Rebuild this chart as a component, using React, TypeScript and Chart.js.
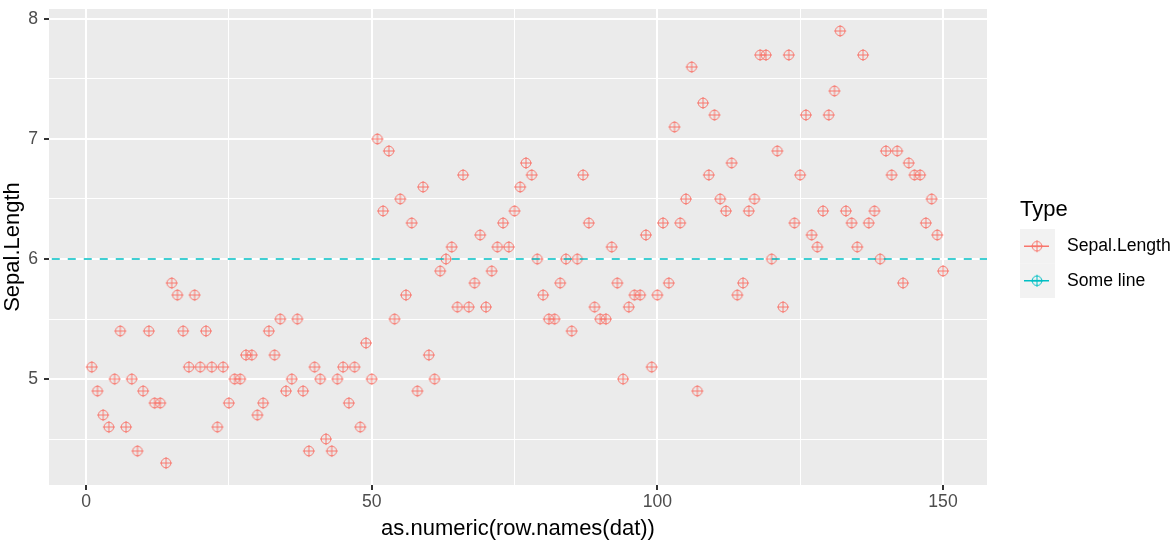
import React, { useEffect, useRef } from "react";
import { Chart, registerables } from "chart.js";

Chart.register(...registerables);

const sepalLength: number[] = [
  5.1, 4.9, 4.7, 4.6, 5.0, 5.4, 4.6, 5.0, 4.4, 4.9, 5.4, 4.8, 4.8, 4.3, 5.8, 5.7, 5.4, 5.1, 5.7, 5.1,
  5.4, 5.1, 4.6, 5.1, 4.8, 5.0, 5.0, 5.2, 5.2, 4.7, 4.8, 5.4, 5.2, 5.5, 4.9, 5.0, 5.5, 4.9, 4.4, 5.1,
  5.0, 4.5, 4.4, 5.0, 5.1, 4.8, 5.1, 4.6, 5.3, 5.0,
  7.0, 6.4, 6.9, 5.5, 6.5, 5.7, 6.3, 4.9, 6.6, 5.2, 5.0, 5.9, 6.0, 6.1, 5.6, 6.7, 5.6, 5.8, 6.2, 5.6,
  5.9, 6.1, 6.3, 6.1, 6.4, 6.6, 6.8, 6.7, 6.0, 5.7, 5.5, 5.5, 5.8, 6.0, 5.4, 6.0, 6.7, 6.3, 5.6, 5.5,
  5.5, 6.1, 5.8, 5.0, 5.6, 5.7, 5.7, 6.2, 5.1, 5.7,
  6.3, 5.8, 7.1, 6.3, 6.5, 7.6, 4.9, 7.3, 6.7, 7.2, 6.5, 6.4, 6.8, 5.7, 5.8, 6.4, 6.5, 7.7, 7.7, 6.0,
  6.9, 5.6, 7.7, 6.3, 6.7, 7.2, 6.2, 6.1, 6.4, 7.2, 7.4, 7.9, 6.4, 6.3, 6.1, 7.7, 6.3, 6.4, 6.0, 6.9,
  6.7, 6.9, 5.8, 6.8, 6.7, 6.7, 6.3, 6.5, 6.2, 5.9,
];
const rowNames: number[] = sepalLength.map((_, i) => i + 1);
const someLineValue = 6;
const seriesNames: string[] = ["Sepal.Length", "Some line"];
const legendTitle = "Type";
const xTitle = "as.numeric(row.names(dat))";
const yTitle = "Sepal.Length";
const xTicks: number[] = [0, 25, 50, 75, 100, 125, 150];
const xMajor: number[] = [0, 50, 100, 150];
const yTicks: number[] = [4.5, 5, 5.5, 6, 6.5, 7, 7.5, 8];
const yMajor: number[] = [5, 6, 7, 8];

const RED = "#F8766D";
const TEAL = "#00BFC4";
const FONT = "'Liberation Sans', Arial, sans-serif";
const TICK_SIZE = 17.6;
const TITLE_SIZE = 22;

function makeGlyph(color: string): HTMLCanvasElement {
  const c = document.createElement("canvas");
  c.width = 14;
  c.height = 14;
  const g = c.getContext("2d")!;
  g.strokeStyle = color;
  g.lineWidth = 1;
  g.beginPath();
  g.arc(7, 7, 4.8, 0, Math.PI * 2);
  g.stroke();
  g.beginPath();
  g.moveTo(7, 1);
  g.lineTo(7, 13);
  g.moveTo(1, 7);
  g.lineTo(13, 7);
  g.stroke();
  return c;
}

export default function App() {
  const ref = useRef<HTMLCanvasElement | null>(null);

  useEffect(() => {
    if (!ref.current) return;
    const redGlyph = makeGlyph(RED);
    const tealGlyph = makeGlyph(TEAL);

    const decor = {
      id: "decor",
      beforeDraw(chart: any) {
        const { ctx, chartArea: a } = chart;
        ctx.save();
        ctx.fillStyle = "#EBEBEB";
        ctx.fillRect(a.left, a.top, a.right - a.left, a.bottom - a.top);
        ctx.restore();
      },
      afterDraw(chart: any) {
        const { ctx, chartArea: a } = chart;
        ctx.save();
        ctx.fillStyle = "#000";
        ctx.font = `${TITLE_SIZE}px ${FONT}`;
        ctx.textAlign = "center";
        ctx.textBaseline = "middle";
        ctx.fillText(xTitle, (a.left + a.right) / 2, 529);
        ctx.save();
        ctx.translate(13, (a.top + a.bottom) / 2);
        ctx.rotate(-Math.PI / 2);
        ctx.fillText(yTitle, 0, 0);
        ctx.restore();

        // legend
        ctx.textAlign = "left";
        ctx.fillText(legendTitle, 1020, 210);
        const colors = [RED, TEAL];
        const glyphs = [redGlyph, tealGlyph];
        for (let i = 0; i < seriesNames.length; i++) {
          const top = 229 + i * 34.5;
          const cy = top + 17.25;
          ctx.fillStyle = "#F2F2F2";
          ctx.fillRect(1020, top, 35, 34.5);
          ctx.strokeStyle = colors[i];
          ctx.lineWidth = 1.5;
          ctx.setLineDash([]);
          ctx.beginPath();
          ctx.moveTo(1024, cy);
          ctx.lineTo(1049, cy);
          ctx.stroke();
          ctx.drawImage(glyphs[i], 1037 - 7, cy - 7);
          ctx.fillStyle = "#000";
          ctx.font = `${TICK_SIZE}px ${FONT}`;
          ctx.fillText(seriesNames[i], 1067, cy);
        }
        ctx.restore();
      },
    };

    const chart = new Chart(ref.current, {
      type: "scatter",
      data: {
        datasets: [
          {
            label: seriesNames[1],
            type: "line",
            data: [
              { x: -20, y: someLineValue },
              { x: 200, y: someLineValue },
            ],
            borderColor: TEAL,
            borderWidth: 1.5,
            borderDash: [8, 8],
            pointRadius: 0,
            fill: false,
          },
          {
            label: seriesNames[0],
            data: rowNames.map((x, i) => ({ x, y: sepalLength[i] })),
            pointStyle: redGlyph,
            pointRadius: 5,
            showLine: false,
          },
        ],
      },
      plugins: [decor],
      options: {
        animation: false,
        responsive: false,
        events: [],
        layout: { padding: { top: 9, right: 188, left: 0, bottom: 0 } },
        plugins: { legend: { display: false }, tooltip: { enabled: false } },
        scales: {
          x: {
            type: "linear",
            min: -6.48,
            max: 157.7,
            afterBuildTicks: (s: any) => {
              s.ticks = xTicks.map((v) => ({ value: v }));
            },
            afterFit: (s: any) => {
              s.height = 60;
              s.paddingLeft = 0;
              s.paddingRight = 0;
            },
            border: { display: false },
            grid: {
              color: "#FFFFFF",
              lineWidth: (c: any) => (xMajor.includes(c.tick?.value) ? 2 : 1),
              tickColor: (c: any) => (xMajor.includes(c.tick?.value) ? "#333333" : "rgba(0,0,0,0)"),
              tickLength: 5,
            },
            ticks: {
              autoSkip: false,
              maxRotation: 0,
              padding: 2,
              color: "#4D4D4D",
              font: { size: TICK_SIZE, family: FONT },
              callback: (v: any) => (xMajor.includes(Number(v)) ? String(v) : ""),
            },
          },
          y: {
            type: "linear",
            min: 4.117,
            max: 8.083,
            afterBuildTicks: (s: any) => {
              s.ticks = yTicks.map((v) => ({ value: v }));
            },
            afterFit: (s: any) => {
              s.width = 49;
              s.paddingTop = 0;
              s.paddingBottom = 0;
            },
            border: { display: false },
            grid: {
              color: "#FFFFFF",
              lineWidth: (c: any) => (yMajor.includes(c.tick?.value) ? 2 : 1),
              tickColor: (c: any) => (yMajor.includes(c.tick?.value) ? "#333333" : "rgba(0,0,0,0)"),
              tickLength: 5,
            },
            ticks: {
              autoSkip: false,
              padding: 6,
              color: "#4D4D4D",
              font: { size: TICK_SIZE, family: FONT },
              callback: (v: any) => (yMajor.includes(Number(v)) ? String(v) : ""),
            },
          },
        },
      },
    } as any);

    return () => chart.destroy();
  }, []);

  return (
    <div style={{ position: "fixed", left: 0, top: 0, width: 1175, height: 545, background: "#fff" }}>
      <canvas ref={ref} width={1175} height={545} style={{ display: "block" }} />
    </div>
  );
}
